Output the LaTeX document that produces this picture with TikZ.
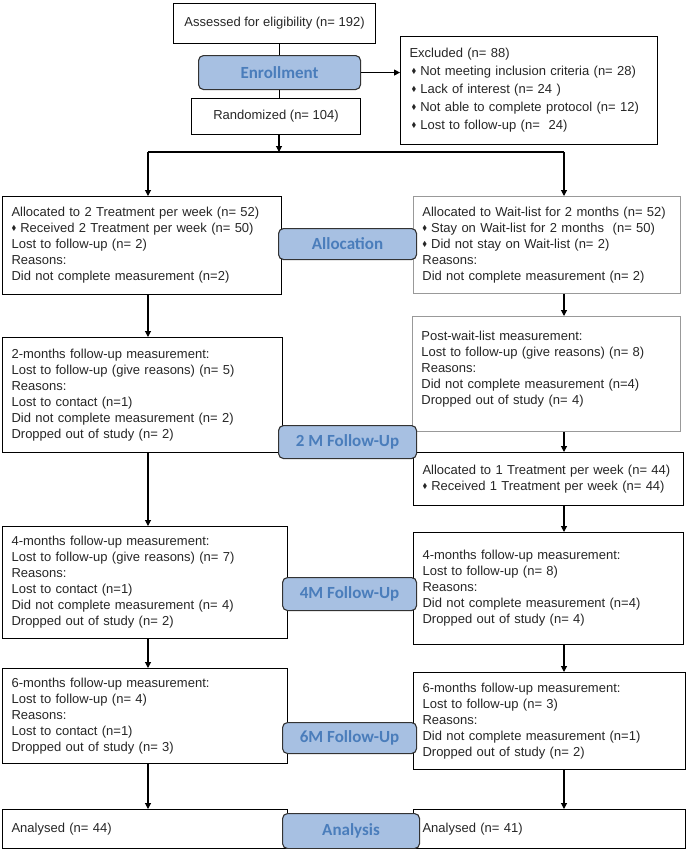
\documentclass[tikz,border=0pt]{standalone}
\usepackage{amssymb}
\usepackage{fontspec}
\setmainfont{Liberation Sans}
\newfontfamily\btnfont{Carlito}
\usetikzlibrary{arrows.meta}
\definecolor{stagefill}{RGB}{167,192,226}
\definecolor{stagetext}{RGB}{74,125,187}
\newcommand{\dia}{\raisebox{0.3ex}{\scalebox{0.55}{$\blacklozenge$}}\hspace{4pt}}

\begin{document}
\begin{tikzpicture}[x=1pt, y=-1pt, font=\fontsize{13}{16}\selectfont]
	\tikzstyle{box}=[draw=black, line width=1.1pt, anchor=north west, align=left, inner xsep=9pt, inner ysep=3pt, text=black!85]
	\tikzstyle{greybox}=[box, draw=black!40, line width=0.8pt]
	\tikzstyle{stage}=[draw=black!80, line width=1.1pt, rounded corners=5pt, fill=stagefill, anchor=north west, text=stagetext, font=\btnfont\bfseries\fontsize{17}{20}\selectfont]
	\tikzstyle{arr}=[line width=1.1pt, -{Triangle[length=6pt,width=6pt]}]
	\useasboundingbox (0,0) rectangle (686,849);
	% enrollment
	\node [box, align=center, minimum width=202pt, minimum height=40pt] (assess) at (173,3) {Assessed for eligibility (n= 192)};
	\node [box, align=center, minimum width=169pt, minimum height=36pt] (random) at (191,98) {Randomized (n= 104)};
	\node [box, text width=239pt, minimum height=108pt, font=\fontsize{13}{18}\selectfont] (excl) at (400,36) {Excluded (n= 88)\\
		\hspace*{2pt}\dia Not meeting inclusion criteria (n= 28)\\
		\hspace*{2pt}\dia Lack of interest (n= 24 )\\
		\hspace*{2pt}\dia Not able to complete protocol (n= 12)\\
		\hspace*{2pt}\dia Lost to follow-up (n=\ \ 24)};
	% allocation
	\node [box, text width=261pt, minimum height=98pt] (alloctwo) at (2,196) {Allocated to 2 Treatment per week (n= 52)\\
		\dia Received 2 Treatment per week (n= 50)\\
		Lost to follow-up (n= 2)\\
		Reasons:\\
		Did not complete measurement (n=2)};
	\node [greybox, text width=249pt, minimum height=97pt] (waitlist) at (413,196) {Allocated to Wait-list for 2 months (n= 52)\\
		\dia Stay on Wait-list for 2 months\ \ (n= 50)\\
		\dia Did not stay on Wait-list (n= 2)\\
		Reasons:\\
		Did not complete measurement (n= 2)};
	% 2 months
	\node [box, text width=262pt, minimum height=115pt] (twoleft) at (2,337) {2-months follow-up measurement:\\
		Lost to follow-up (give reasons) (n= 5)\\
		Reasons:\\
		Lost to contact (n=1)\\
		Did not complete measurement (n= 2)\\
		Dropped out of study (n= 2)};
	\node [greybox, text width=250pt, minimum height=115pt] (postwait) at (412,316) {Post-wait-list measurement:\\
		Lost to follow-up (give reasons) (n= 8)\\
		Reasons:\\
		Did not complete measurement (n=4)\\
		Dropped out of study (n= 4)\\[-4pt]\mbox{}};
	\node [box, text width=252pt, minimum height=53pt] (allocone) at (413,452) {Allocated to 1 Treatment per week (n= 44)\\
		\dia Received 1 Treatment per week (n= 44)};
	% 4 months
	\node [box, text width=267pt, minimum height=112pt] (fourleft) at (2,526) {4-months follow-up measurement:\\
		Lost to follow-up (give reasons) (n= 7)\\
		Reasons:\\
		Lost to contact (n=1)\\
		Did not complete measurement (n= 4)\\
		Dropped out of study (n= 2)};
	\node [box, text width=252pt, minimum height=112pt] (fourright) at (413,532) {4-months follow-up measurement:\\
		Lost to follow-up (n= 8)\\
		Reasons:\\
		Did not complete measurement (n=4)\\
		Dropped out of study (n= 4)};
	% 6 months
	\node [box, text width=267pt, minimum height=95pt] (sixleft) at (2,668) {6-months follow-up measurement:\\
		Lost to follow-up (n= 4)\\
		Reasons:\\
		Lost to contact (n=1)\\
		Dropped out of study (n= 3)};
	\node [box, text width=254pt, minimum height=97pt] (sixright) at (413,672) {6-months follow-up measurement:\\
		Lost to follow-up (n= 3)\\
		Reasons:\\
		Did not complete measurement (n=1)\\
		Dropped out of study (n= 2)};
	% analysis
	\node [box, text width=267pt, minimum height=39pt] (analeft) at (2,809) {Analysed (n= 44)};
	\node [box, text width=254pt, minimum height=39pt] (anaright) at (413,809) {Analysed (n= 41)};
	% stage labels
	\node [stage, minimum width=162pt, minimum height=34pt] (enroll) at (198,55) {Enrollment};
	\node [stage, minimum width=138pt, minimum height=31pt] (allocation) at (278,228) {Allocation};
	\node [stage, minimum width=138pt, minimum height=33pt] (twofu) at (278,425) {2 M Follow-Up};
	\node [stage, minimum width=134pt, minimum height=33pt] (fourfu) at (282,577) {4M Follow-Up};
	\node [stage, minimum width=134pt, minimum height=31pt] (sixfu) at (282,722) {6M Follow-Up};
	\node [stage, minimum width=137pt, minimum height=35pt] (analysis) at (282,813) {Analysis};
	% connectors
	\coordinate (split) at (279,152);
	\coordinate (lx) at (148,152);
	\coordinate (rx) at (564,152);
	\draw [line width=1.1pt] (enroll.north) -- (enroll.north |- assess.south);
	\draw [line width=1.1pt] (enroll.south) -- (enroll.south |- random.north);
	\draw [arr] (enroll.east) -- (excl.west |- enroll.east);
	\draw [arr] (split |- random.south) -- (split);
	\draw [line width=1.1pt] (lx) -- (rx);
	\draw [arr] (lx) -- (lx |- alloctwo.north);
	\draw [arr] (rx) -- (rx |- waitlist.north);
	\draw [arr] (lx |- alloctwo.south) -- (lx |- twoleft.north);
	\draw [arr] (lx |- twoleft.south) -- (lx |- fourleft.north);
	\draw [arr] (lx |- fourleft.south) -- (lx |- sixleft.north);
	\draw [arr] (lx |- sixleft.south) -- (lx |- analeft.north);
	\draw [arr] (rx |- waitlist.south) -- (rx |- postwait.north);
	\draw [arr] (rx |- postwait.south) -- (rx |- allocone.north);
	\draw [arr] (rx |- allocone.south) -- (rx |- fourright.north);
	\draw [arr] (rx |- fourright.south) -- (rx |- sixright.north);
	\draw [arr] (rx |- sixright.south) -- (rx |- anaright.north);
\end{tikzpicture}
\end{document}
